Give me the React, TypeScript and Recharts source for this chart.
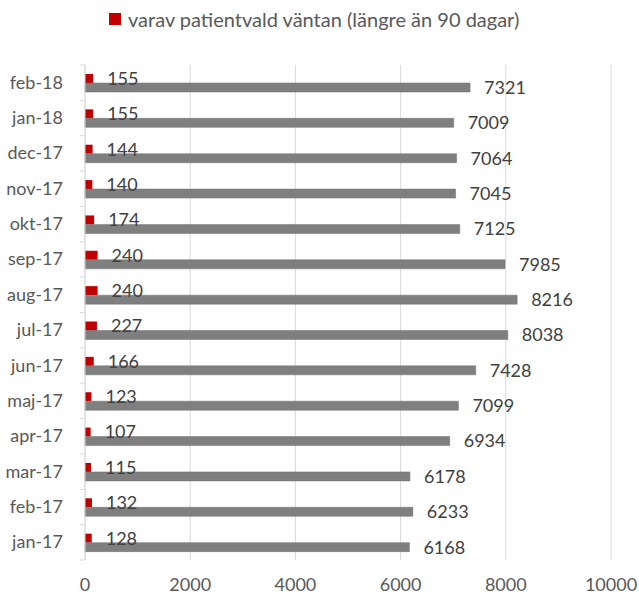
import React from "react";
import {
  BarChart,
  Bar,
  XAxis,
  YAxis,
  CartesianGrid,
  LabelList,
} from "recharts";

// top to bottom as drawn
const months = [
  "feb-18", "jan-18", "dec-17", "nov-17", "okt-17", "sep-17", "aug-17",
  "jul-17", "jun-17", "maj-17", "apr-17", "mar-17", "feb-17", "jan-17",
];
const totalWaiting = [
  7321, 7009, 7064, 7045, 7125, 7985, 8216, 8038, 7428, 7099, 6934, 6178, 6233, 6168,
];
const patientChosen = [
  155, 155, 144, 140, 174, 240, 240, 227, 166, 123, 107, 115, 132, 128,
];
const xTicks = [0, 2000, 4000, 6000, 8000, 10000];

const LEGEND_LABEL = "varav patientvald väntan (längre än 90 dagar)";
const FONT = "Lato, 'Open Sans', sans-serif";
const RED = "#c00000";
const GRAY = "#7f7f7f";

const WIDTH = 639;
const HEIGHT = 596;
const MARGIN = { top: 65, right: 28, bottom: 6, left: 8 };
const X_HEIGHT = 30;
const Y_WIDTH = 77;
const BAND = (HEIGHT - MARGIN.top - MARGIN.bottom - X_HEIGHT) / months.length;

const data = months.map((m, i) => ({
  month: m,
  total: totalWaiting[i],
  chosen: patientChosen[i],
}));

const MonthTick = (props: any) => {
  const { x, y, payload, index } = props;
  const axisX = x + 8;
  return (
    <g>
      <line x1={axisX - 5} x2={axisX} y1={y - BAND / 2} y2={y - BAND / 2} stroke="#d9d9d9" />
      {index === months.length - 1 && (
        <line x1={axisX - 5} x2={axisX} y1={y + BAND / 2} y2={y + BAND / 2} stroke="#d9d9d9" />
      )}
      <text x={x - 14} y={y} dy={6} textAnchor="end" fill="#595959" fontSize={18} fontFamily={FONT}>
        {payload.value}
      </text>
    </g>
  );
};

export default function App() {
  return (
    <div style={{ position: "absolute", left: 0, top: 0, width: WIDTH, height: HEIGHT, background: "#fff" }}>
      {/* legend only shows the red series, like the source */}
      <div
        style={{
          position: "absolute",
          top: 7,
          left: 109,
          display: "flex",
          alignItems: "center",
          fontFamily: FONT,
          fontSize: 20,
          color: "#595959",
          whiteSpace: "nowrap",
        }}
      >
        <span style={{ display: "inline-block", width: 12, height: 12, background: RED, marginRight: 7 }} />
        <span>{LEGEND_LABEL}</span>
      </div>
      <BarChart
        width={WIDTH}
        height={HEIGHT}
        data={data}
        layout="vertical"
        margin={MARGIN}
        barGap={0}
        barSize={9}
      >
        <CartesianGrid horizontal={false} stroke="#d9d9d9" />
        <XAxis
          type="number"
          domain={[0, 10000]}
          ticks={xTicks}
          height={X_HEIGHT}
          axisLine={false}
          tickLine={false}
          tick={{ fill: "#595959", fontSize: 18, fontFamily: FONT }}
          tickMargin={12}
        />
        <YAxis
          type="category"
          dataKey="month"
          width={Y_WIDTH}
          axisLine={{ stroke: "#d9d9d9" }}
          tickLine={false}
          tick={<MonthTick />}
          interval={0}
        />
        <Bar dataKey="chosen" fill={RED} isAnimationActive={false}>
          <LabelList
            dataKey="chosen"
            position="right"
            offset={14}
            fill="#404040"
            fontSize={18}
            fontFamily={FONT}
          />
        </Bar>
        <Bar dataKey="total" fill={GRAY} stroke="#6e6e6e" strokeWidth={0.5} isAnimationActive={false}>
          <LabelList
            dataKey="total"
            position="right"
            offset={14}
            fill="#404040"
            fontSize={18}
            fontFamily={FONT}
          />
        </Bar>
      </BarChart>
    </div>
  );
}
